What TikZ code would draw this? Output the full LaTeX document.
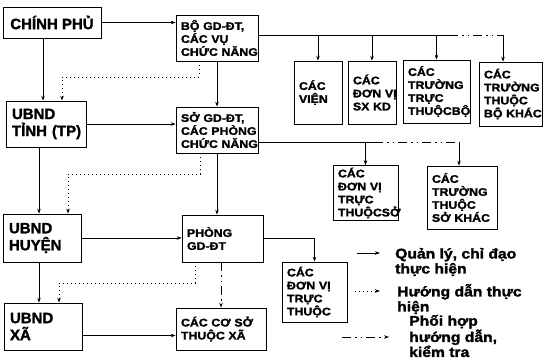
\documentclass[tikz,border=0pt]{standalone}
\usepackage{fontspec}
\setmainfont{Liberation Sans}[BoldFeatures={FakeBold=1.5}]
\newfontfamily\rongfont{Liberation Sans}[FakeStretch=1.12, BoldFeatures={FakeBold=1.8}]
\usetikzlibrary{arrows.meta}
\tikzset{
  >={Stealth[length=5pt,width=3.5pt]},
  capto/.style={draw, line width=0.7pt, align=left, inner xsep=6pt, inner ysep=2pt,
    font=\bfseries\fontsize{15}{17}\selectfont},
  donvi/.style={draw, line width=0.7pt, align=left, inner xsep=5pt, inner ysep=2pt,
    font=\rongfont\bfseries\fontsize{11}{13}\selectfont},
  chuthich/.style={anchor=west, align=left, inner sep=0pt,
    font=\rongfont\bfseries\fontsize{14}{15}\selectfont},
  quanly/.style={line width=0.7pt},
  huongdan/.style={line width=0.8pt, dash pattern=on 1pt off 3pt},
  phoihop/.style={line width=0.8pt, dash pattern=on 9pt off 4pt on 1.5pt off 4pt on 1.5pt off 4pt}
}
\begin{document}
\begin{tikzpicture}[x=1pt,y=-1pt]
\useasboundingbox (0,0) rectangle (543,359);
% cac cap quan ly
\node[capto, minimum width=98pt, minimum height=31pt, align=center] (cp) at (52,22.5) {CHÍNH~PHỦ};
\node[capto, text width=68pt, minimum height=46pt] (tinh) at (46,124) {UBND\\TỈNH~(TP)};
\node[capto, text width=66pt, minimum height=48pt] (huyen) at (42,238) {UBND\\HUYỆN};
\node[capto, text width=66pt, minimum height=47pt] (xa) at (43,326.5) {UBND\\XÃ};
% nganh giao duc
\node[donvi, text width=72pt, minimum height=46pt] (bo) at (217,38) {BỘ~GD-ĐT,\\CÁC~VỤ\\CHỨC~NĂNG};
\node[donvi, text width=72pt, minimum height=46pt] (so) at (217,130) {SỞ~GD-ĐT,\\CÁC~PHÒNG\\CHỨC~NĂNG};
\node[donvi, text width=71pt, minimum height=47pt] (phong) at (222.5,238.5) {PHÒNG\\GD-ĐT};
\node[donvi, text width=80pt, minimum height=42pt] (coso) at (221,329) {CÁC~CƠ~SỞ\\THUỘC~XÃ};
% don vi truc thuoc
\node[donvi, text width=38pt, minimum height=63pt] (vien) at (318,92.5) {CÁC\\VIỆN};
\node[donvi, text width=38pt, minimum height=63pt] (dvsx) at (372,92.5) {CÁC\\ĐƠN~VỊ\\SX~KD};
\node[donvi, text width=57pt, minimum height=63pt] (ttbo) at (436.5,91.5) {CÁC\\TRƯỜNG\\TRỰC\\THUỘCBỘ};
\node[donvi, text width=53pt, minimum height=64pt] (tbk) at (510.5,94) {CÁC\\TRƯỜNG\\THUỘC\\BỘ~KHÁC};
\node[donvi, text width=55pt, minimum height=54pt] (dvso) at (365.5,193) {CÁC\\ĐƠN~VỊ\\TRỰC\\THUỘCSỞ};
\node[donvi, text width=60pt, minimum height=63pt] (tsk) at (462,197.5) {CÁC\\TRƯỜNG\\THUỘC\\SỞ~KHÁC};
\node[donvi, text width=55pt, minimum height=60pt] (dvtt) at (314.5,292) {CÁC\\ĐƠN~VỊ\\TRỰC\\THUỘC};
% quan ly, chi dao
\draw[quanly,arrows=->] (cp.east) -- (cp.east -| bo.west);
\draw[quanly,arrows=->] (tinh.east) -- (tinh.east -| so.west);
\draw[quanly,arrows=->] (huyen.east) -- (huyen.east -| phong.west);
\draw[quanly,arrows=->] ([yshift=-9pt]xa.east) -- ([yshift=-9pt]xa.east -| coso.west);
\draw[quanly,arrows=->] ([xshift=-9pt]cp.south) -- ([xshift=-9pt]cp.south |- tinh.north);
\draw[quanly,arrows=->] ([xshift=-7pt]tinh.south) -- ([xshift=-7pt]tinh.south |- huyen.north);
\draw[quanly,arrows=->] ([xshift=-3pt]huyen.south) -- ([xshift=-3pt]huyen.south |- xa.north);
\draw[quanly,arrows=->] (bo.south) -- (so.north);
\draw[quanly,arrows=->] (so.south) -- (so.south |- phong.north);
\draw[quanly,arrows=->] (phong.east) -| (dvtt.north);
% nhanh bo
\coordinate (b1) at (458,35);
\coordinate (b1e) at (503,35);
\draw[quanly] (bo.east |- b1) -- (b1);
\draw[phoihop, dash phase=9pt] (b1) -- (b1e);
\draw[quanly,arrows=->] (b1e) -- (b1e |- tbk.north);
\foreach \dv in {vien,dvsx,ttbo}
    \draw[quanly,arrows=->] (\dv.north |- b1) -- (\dv.north);
% nhanh so
\coordinate (b2) at (383,142);
\coordinate (b2e) at (459,142);
\draw[quanly] (so.east |- b2) -- (b2);
\draw[phoihop, dash phase=9pt] (b2) -- (b2e);
\draw[quanly,arrows=->] (b2e) -- (b2e |- tsk.north);
\draw[quanly,arrows=->] (dvso.north |- b2) -- (dvso.north);
% huong dan
\coordinate (d1) at (62,77);
\coordinate (d2) at (68,174);
\coordinate (d3) at (59,283);
\draw[huongdan,arrows=->] ([xshift=-18pt]bo.south) |- (d1) -- (d1 |- tinh.north);
\draw[huongdan,arrows=->] ([xshift=-17pt]so.south) |- (d2) -- (d2 |- huyen.north);
\draw[huongdan,arrows=->] ([xshift=-27pt]phong.south) |- (d3) -- (d3 |- xa.north);
% phoi hop
\draw[phoihop,arrows=->] (coso.north |- phong.south) -- (coso.north);
% chu thich
\coordinate (a1) at (357,253); \coordinate (a1e) at (380,253);
\coordinate (a2) at (355,291); \coordinate (a2e) at (380,291);
\coordinate (a3) at (342,337); \coordinate (a3e) at (389,337);
\draw[quanly,arrows=->] (a1) -- (a1e);
\draw[huongdan,arrows=->] (a2) -- (a2e);
\draw[phoihop,arrows=->] (a3) -- (a3e);
\node[chuthich] (l1) at (395,262) {Quản lý, chỉ đạo\\thực hiện};
\node[chuthich] (l2) at (397,299) {Hướng dẫn thực\\hiện};
\node[chuthich] (l3) at (409,336) {Phối hợp\\hướng dẫn,\\kiểm tra};
\end{tikzpicture}
\end{document}
